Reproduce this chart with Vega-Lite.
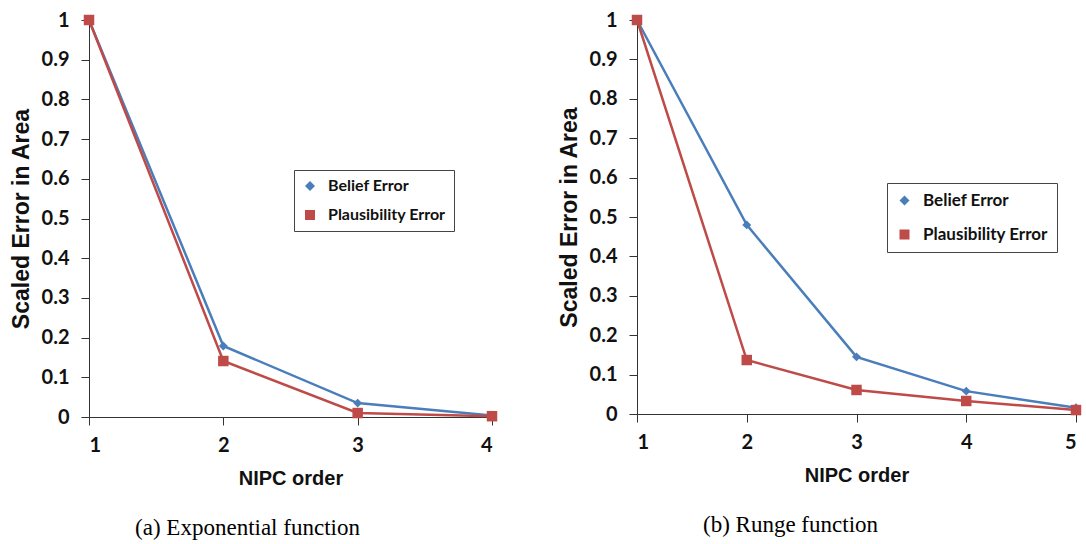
{
  "$schema": "https://vega.github.io/schema/vega-lite/v6.json",
  "background": "white",
  "padding": {"top": 10, "left": 10, "right": 2, "bottom": 2},
  "spacing": 60,
  "datasets": {
    "expo": [
      {"order": 1, "series": "Belief Error", "err": 1},
      {"order": 2, "series": "Belief Error", "err": 0.179},
      {"order": 3, "series": "Belief Error", "err": 0.035},
      {"order": 4, "series": "Belief Error", "err": 0.004},
      {"order": 1, "series": "Plausibility Error", "err": 1},
      {"order": 2, "series": "Plausibility Error", "err": 0.141},
      {"order": 3, "series": "Plausibility Error", "err": 0.01},
      {"order": 4, "series": "Plausibility Error", "err": 0.002}
    ],
    "runge": [
      {"order": 1, "series": "Belief Error", "err": 1},
      {"order": 2, "series": "Belief Error", "err": 0.48},
      {"order": 3, "series": "Belief Error", "err": 0.145},
      {"order": 4, "series": "Belief Error", "err": 0.058},
      {"order": 5, "series": "Belief Error", "err": 0.016},
      {"order": 1, "series": "Plausibility Error", "err": 1},
      {"order": 2, "series": "Plausibility Error", "err": 0.137},
      {"order": 3, "series": "Plausibility Error", "err": 0.061},
      {"order": 4, "series": "Plausibility Error", "err": 0.033},
      {"order": 5, "series": "Plausibility Error", "err": 0.01}
    ]
  },
  "config": {
    "view": {"stroke": null},
    "axis": {
      "grid": false,
      "labelFont": "Lato",
      "labelFontWeight": "bold",
      "labelFontSize": 20,
      "labelColor": "#111",
      "titleFont": "Liberation Sans",
      "titleFontWeight": "bold",
      "titleFontSize": 20,
      "titleColor": "#111",
      "domainColor": "#333",
      "tickColor": "#333",
      "tickSize": 8,
      "domainWidth": 1
    },
    "title": {"font": "Liberation Serif", "fontSize": 23, "fontWeight": "normal", "color": "#000", "orient": "bottom", "anchor": "middle", "frame": "group", "offset": 29},
    "legend": {
      "orient": "none",
      "title": null,
      "strokeColor": "#444",
      "fillColor": "white",
      "padding": 8,
      "rowPadding": 13,
      "labelFont": "Lato",
      "labelFontWeight": "bold",
      "labelFontSize": 16,
      "labelColor": "#111",
      "symbolSize": 100,
      "labelOffset": 10
    }
  },
  "resolve": {"scale": {"color": "independent", "shape": "independent"}, "legend": {"color": "independent", "shape": "independent"}},
  "hconcat": [
    {
      "width": 403,
      "height": 397,
      "title": {"text": "(a) Exponential function", "dx": -43},
      "data": {"name": "expo"},
      "encoding": {
        "x": {"field": "order", "type": "quantitative", "title": "NIPC order",
              "scale": {"domain": [1, 4], "nice": false, "zero": false},
              "axis": {"values": [1, 2, 3, 4], "format": "d", "labelPadding": 10, "titlePadding": 13}},
        "y": {"field": "err", "type": "quantitative", "title": "Scaled Error in Area",
              "scale": {"domain": [0, 1], "nice": false},
              "axis": {"values": [0, 0.1, 0.2, 0.3, 0.4, 0.5, 0.6, 0.7, 0.8, 0.9, 1], "format": "~g", "labelPadding": 12, "titlePadding": 8, "titleFontSize": 23}},
        "color": {"field": "series", "type": "nominal",
                  "scale": {"domain": ["Belief Error", "Plausibility Error"], "range": ["#4A7EBB", "#BE4B48"]},
                  "legend": {"legendX": 205, "legendY": 150,
                    "encode": {"symbols": {"update": {
                      "shape": {"signal": "datum.value == 'Belief Error' ? 'M-1.6,-0.22L1.6,-0.22L1.6,0.22L-1.6,0.22ZM0,-0.75L0.75,0L0,0.75L-0.75,0Z' : 'M-1.6,-0.22L1.6,-0.22L1.6,0.22L-1.6,0.22ZM-1,-1L1,-1L1,1L-1,1Z'"},
                      "fill": {"signal": "datum.value == 'Belief Error' ? '#4A7EBB' : '#BE4B48'"},
                      "fillOpacity": {"value": 1},
                      "strokeWidth": {"value": 0}}}}}}
      },
      "layer": [
        {"mark": {"type": "line", "strokeWidth": 2.5}},
        {"mark": {"type": "point", "filled": true, "opacity": 1},
         "encoding": {
           "shape": {"field": "series", "type": "nominal", "scale": {"domain": ["Belief Error", "Plausibility Error"], "range": ["diamond", "square"]}, "legend": null},
           "size": {"field": "series", "type": "nominal", "scale": {"domain": ["Belief Error", "Plausibility Error"], "range": [80, 110]}, "legend": null}
         }}
      ]
    },
    {
      "width": 439,
      "height": 394,
      "title": {"text": "(b) Runge function", "dx": -66},
      "data": {"name": "runge"},
      "encoding": {
        "x": {"field": "order", "type": "quantitative", "title": "NIPC order",
              "scale": {"domain": [1, 5], "nice": false, "zero": false},
              "axis": {"values": [1, 2, 3, 4, 5], "format": "d", "labelPadding": 10, "titlePadding": 13}},
        "y": {"field": "err", "type": "quantitative", "title": "Scaled Error in Area",
              "scale": {"domain": [0, 1], "nice": false},
              "axis": {"values": [0, 0.1, 0.2, 0.3, 0.4, 0.5, 0.6, 0.7, 0.8, 0.9, 1], "format": "~g", "labelPadding": 12, "titlePadding": 8, "titleFontSize": 23}},
        "color": {"field": "series", "type": "nominal",
                  "scale": {"domain": ["Belief Error", "Plausibility Error"], "range": ["#4A7EBB", "#BE4B48"]},
                  "legend": {"legendX": 250, "legendY": 163, "rowPadding": 16, "labelFontSize": 17, "padding": 9,
                    "encode": {"symbols": {"update": {
                      "shape": {"signal": "datum.value == 'Belief Error' ? 'M-1.6,-0.22L1.6,-0.22L1.6,0.22L-1.6,0.22ZM0,-0.75L0.75,0L0,0.75L-0.75,0Z' : 'M-1.6,-0.22L1.6,-0.22L1.6,0.22L-1.6,0.22ZM-1,-1L1,-1L1,1L-1,1Z'"},
                      "fill": {"signal": "datum.value == 'Belief Error' ? '#4A7EBB' : '#BE4B48'"},
                      "fillOpacity": {"value": 1},
                      "strokeWidth": {"value": 0}}}}}}
      },
      "layer": [
        {"mark": {"type": "line", "strokeWidth": 2.5}},
        {"mark": {"type": "point", "filled": true, "opacity": 1},
         "encoding": {
           "shape": {"field": "series", "type": "nominal", "scale": {"domain": ["Belief Error", "Plausibility Error"], "range": ["diamond", "square"]}, "legend": null},
           "size": {"field": "series", "type": "nominal", "scale": {"domain": ["Belief Error", "Plausibility Error"], "range": [80, 110]}, "legend": null}
         }}
      ]
    }
  ]
}
